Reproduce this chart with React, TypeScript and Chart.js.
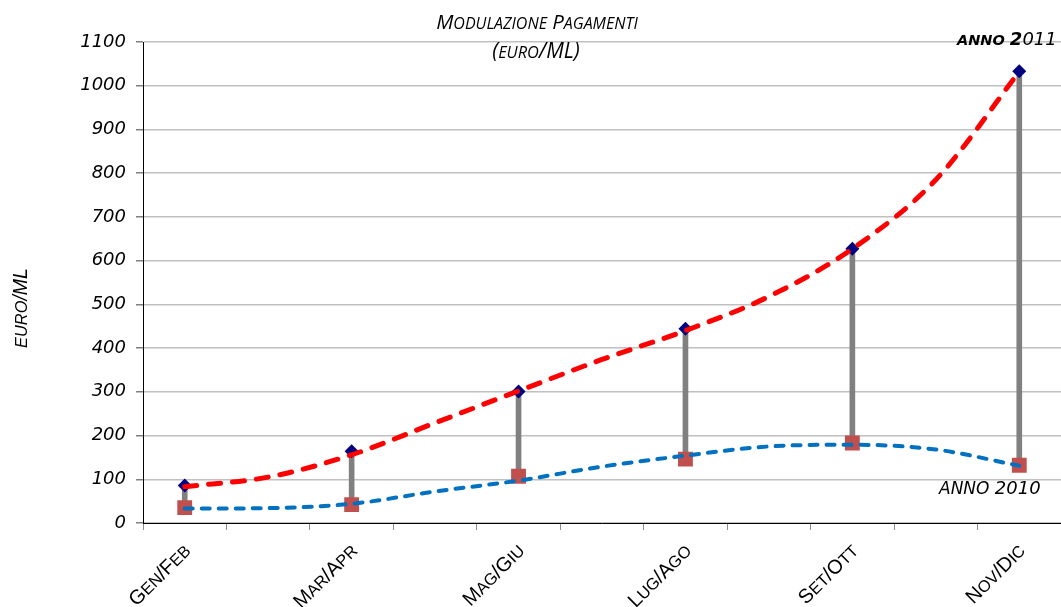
import React, { useEffect, useRef } from 'react';
import { Chart, registerables } from 'chart.js';

Chart.register(...registerables);

// ---- data ----
const categories = ['Gen/Feb', 'Mar/Apr', 'Mag/Giu', 'Lug/Ago', 'Set/Ott', 'Nov/Dic'];
const anno2011 = [86, 164, 301, 444, 627, 1033];
const anno2010 = [35, 42, 107, 146, 183, 132];
// trend curves read at every half-step slot (category, gap, category, ...)
const trend2011 = [83, 105, 156, 229, 302, 374, 440, 518, 627, 785, 1032];
const trend2010 = [33, 34, 44, 72, 97, 129, 154, 175, 179, 168, 131];
const yMin = 0;
const yMax = 1100;
const yStep = 100;
const titleLines = ['Modulazione Pagamenti', '(euro/ML)'];
const yTitle = 'euro/ML';

// slot labels: a category, then an empty slot between categories
const slotLabels: string[] = categories.flatMap((c, i) => (i < categories.length - 1 ? [c, ''] : [c]));
const onSlots = (vals: number[]) => slotLabels.map((_, j) => (j % 2 === 0 ? vals[j / 2] : null));
const rangeSlots = slotLabels.map((_, j) => (j % 2 === 0 ? [anno2010[j / 2], anno2011[j / 2]] : null));

type SCOpts = { italic?: boolean; bold?: boolean; family: string; align: 'left' | 'center' | 'right'; k: number };

function drawSmallCaps(ctx: CanvasRenderingContext2D, text: string, x: number, y: number, size: number, o: SCOpts) {
  const runs: { t: string; s: number; w: number }[] = [];
  for (const ch of text) {
    const small = ch !== ch.toUpperCase();
    const s = small ? size * o.k : size;
    const c = ch.toUpperCase();
    const last = runs[runs.length - 1];
    if (last && last.s === s) last.t += c;
    else runs.push({ t: c, s, w: 0 });
  }
  const font = (s: number) => `${o.italic ? 'italic ' : ''}${o.bold ? 'bold ' : ''}${s}px ${o.family}`;
  let total = 0;
  for (const r of runs) {
    ctx.font = font(r.s);
    r.w = ctx.measureText(r.t).width;
    total += r.w;
  }
  let cx = o.align === 'center' ? x - total / 2 : o.align === 'right' ? x - total : x;
  ctx.textAlign = 'left';
  ctx.textBaseline = 'alphabetic';
  for (const r of runs) {
    ctx.font = font(r.s);
    ctx.fillText(r.t, cx, y);
    cx += r.w;
  }
  return total;
}

function drawRuns(ctx: CanvasRenderingContext2D, runs: { t: string; font: string }[], x: number, y: number) {
  ctx.textAlign = 'left';
  ctx.textBaseline = 'alphabetic';
  let cx = x;
  for (const r of runs) {
    ctx.font = r.font;
    ctx.fillText(r.t, cx, y);
    cx += ctx.measureText(r.t).width;
  }
}

const textPlugin = {
  id: 'textPlugin',
  afterDraw(chart: any) {
    const ctx: CanvasRenderingContext2D = chart.ctx;
    const xs = chart.scales.x;
    const area = chart.chartArea;
    ctx.save();
    ctx.fillStyle = '#000';
    // title
    drawSmallCaps(ctx, titleLines[0], 537, 29, 20.5, { italic: true, family: '"Open Sans"', align: 'center', k: 0.78 });
    drawSmallCaps(ctx, titleLines[1], 536, 58, 21, { italic: true, family: '"Open Sans"', align: 'center', k: 0.78 });

    // y title
    ctx.save();
    ctx.translate(20, 308);
    ctx.rotate(-Math.PI / 2);
    drawSmallCaps(ctx, yTitle, 0, 6.8, 19.5, { italic: true, family: '"Liberation Sans"', align: 'center', k: 0.84 });
    ctx.restore();

    // x labels (rotated)
    categories.forEach((c, i) => {
      const px = xs.getPixelForValue(i * 2);
      ctx.save();
      ctx.translate(px + 2, area.bottom + 24);
      ctx.rotate(-Math.PI / 4);
      drawSmallCaps(ctx, c, 0, 7, 20, { family: '"Liberation Sans"', align: 'right', k: 0.82 });
      ctx.restore();
    });

    // series labels
    drawRuns(ctx, [
      { t: 'ANNO ', font: 'italic bold 14.5px "DejaVu Sans"' },
      { t: '2', font: 'italic bold 18px "DejaVu Sans"' },
      { t: '011', font: 'italic 18px "DejaVu Sans"' },
    ], 957, 45);
    drawRuns(ctx, [
      { t: 'ANNO ', font: 'italic 17px "DejaVu Sans"' },
      { t: '2010', font: 'italic 18px "DejaVu Sans"' },
    ], 939, 494);
    ctx.restore();
  },
};

export default function App() {
  const ref = useRef<HTMLCanvasElement | null>(null);
  useEffect(() => {
    document.body.style.margin = '0';
    const canvas = ref.current;
    if (!canvas) return;
    const chart = new Chart(canvas, {
      type: 'line',
      data: {
        labels: slotLabels,
        datasets: [
          {
            type: 'line',
            label: 'Trend 2011',
            data: trend2011,
            borderColor: '#ff0000',
            borderWidth: 5,
            borderDash: [12, 12],
            borderCapStyle: 'round',
            pointRadius: 0,
            cubicInterpolationMode: 'monotone',
            fill: false,
            order: 1,
          } as any,
          {
            type: 'line',
            label: 'Trend 2010',
            data: trend2010,
            borderColor: '#0070c0',
            borderWidth: 4,
            borderDash: [8, 9],
            borderCapStyle: 'round',
            pointRadius: 0,
            cubicInterpolationMode: 'monotone',
            fill: false,
            order: 2,
          } as any,
          {
            type: 'line',
            label: 'Anno 2011',
            data: onSlots(anno2011),
            showLine: false,
            pointStyle: 'rectRot',
            pointRadius: 7,
            pointBorderWidth: 0,
            pointBackgroundColor: '#000080',
            pointBorderColor: '#000080',
            order: 3,
          } as any,
          {
            type: 'line',
            label: 'Anno 2010',
            data: onSlots(anno2010),
            showLine: false,
            pointStyle: 'rect',
            pointRadius: 10.5,
            pointBorderWidth: 0,
            pointBackgroundColor: '#c0504d',
            pointBorderColor: '#c0504d',
            order: 4,
          } as any,
          {
            type: 'bar',
            label: 'Differenza',
            data: rangeSlots,
            backgroundColor: '#808080',
            borderWidth: 0,
            barThickness: 5,
            order: 5,
          } as any,
        ],
      },
      options: {
        animation: false,
        responsive: true,
        maintainAspectRatio: false,
        layout: { autoPadding: false, padding: { top: 42, left: 0, right: 0, bottom: 0 } },
        plugins: {
          legend: { display: false },
          tooltip: { enabled: false },
          title: { display: false },
        },
        scales: {
          x: {
            type: 'category',
            offset: true,
            grid: { offset: true, drawOnChartArea: false, drawTicks: true, tickLength: 7, tickColor: '#8c8c8c', tickWidth: 1 },
            border: { display: true, color: '#000', width: 1 },
            ticks: { autoSkip: false, maxRotation: 0, minRotation: 0, padding: 0, callback: () => '' },
            afterFit: (s: any) => {
              s.height = 84;
              s.paddingLeft = 0;
              s.paddingRight = 0;
            },
          },
          y: {
            min: yMin,
            max: yMax,
            ticks: {
              stepSize: yStep,
              color: '#000',
              padding: 10,
              font: { family: '"DejaVu Sans"', size: 18, style: 'italic' },
              callback: (v: any) => String(v),
            },
            grid: { color: '#c0c0c0', lineWidth: 1.5, tickLength: 7, tickColor: '#808080' },
            border: { display: true, color: '#000', width: 1 },
            afterFit: (s: any) => {
              s.width = 143;
            },
          },
        },
      } as any,
      plugins: [textPlugin],
    });
    return () => chart.destroy();
  }, []);
  return (
    <div style={{ position: 'absolute', left: 0, top: 0, width: 1061, height: 607 }}>
      <canvas ref={ref} />
    </div>
  );
}
